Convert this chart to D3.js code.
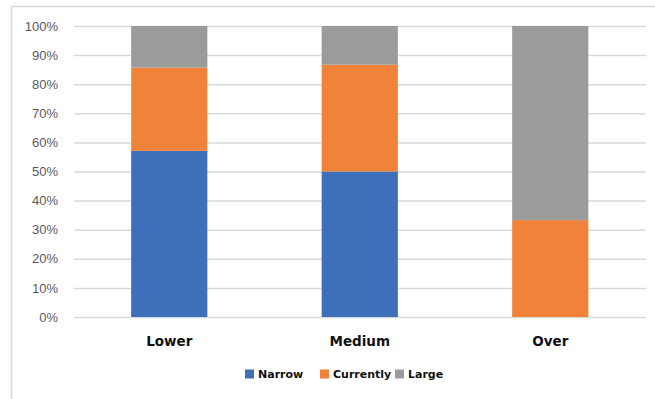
<!DOCTYPE html>
<html><head><meta charset="utf-8">
<script src="https://cdn.jsdelivr.net/npm/d3@7"></script>
<style>body{margin:0;background:#fff}</style>
</head><body>
<svg id="c" width="655" height="399"></svg>
<script>
const categories = ["Lower", "Medium", "Over"];
const seriesNames = ["Narrow", "Currently", "Large"];
const narrow = [57.1, 50.0, 0];
const currently = [28.6, 36.7, 33.3];
const large = [14.3, 13.3, 66.7];
const yTicks = [0, 10, 20, 30, 40, 50, 60, 70, 80, 90, 100];
const colors = ["#3d70b8", "#f0823a", "#9a9c9c"];

const svg = d3.select("#c");
// outer frame
svg.append("path").attr("d", "M11.5,399 V6.5 H655").attr("fill", "none").attr("stroke", "#d9d9d9").attr("stroke-width", 1.5);

const x = d3.scaleBand().domain(categories).range([74, 645.5]).paddingInner(0.6).paddingOuter(0.3);
const y = d3.scaleLinear().domain([0, 100]).range([317, 26]);

// gridlines
svg.append("g").selectAll("line").data(yTicks).join("line")
  .attr("x1", 74).attr("x2", 646)
  .attr("y1", d => y(d) + 0.5).attr("y2", d => y(d) + 0.5)
  .attr("stroke", "#d9d9d9").attr("stroke-width", 1.5);

// y axis labels
const yAxis = d3.axisLeft(y).tickValues(yTicks).tickFormat(d => d + "%").tickSize(0).tickPadding(0);
const ga = svg.append("g").attr("transform", "translate(58,0)").call(yAxis);
ga.select(".domain").remove();
ga.selectAll("text").attr("fill", "#595959").attr("font-family", "Liberation Sans, Arial, sans-serif").attr("font-size", 13);

// stacked bars
const rows = categories.map((c, i) => ({cat: c, Narrow: narrow[i], Currently: currently[i], Large: large[i]}));
const stack = d3.stack().keys(seriesNames)(rows);
svg.append("g").selectAll("g").data(stack).join("g")
  .attr("fill", (d, i) => colors[i])
  .selectAll("rect").data(d => d).join("rect")
  .attr("x", d => x(d.data.cat))
  .attr("width", x.bandwidth())
  .attr("y", d => y(d[1]))
  .attr("height", d => y(d[0]) - y(d[1]));

// x axis labels
const xAxis = d3.axisBottom(x).tickSize(0).tickPadding(0);
const gx = svg.append("g").attr("transform", "translate(0,336)").call(xAxis);
gx.select(".domain").remove();
gx.selectAll("text").attr("fill", "#111").attr("font-family", "DejaVu Sans, sans-serif")
  .attr("font-size", 13.5).attr("font-weight", "bold");

// legend
const legendX = [245, 320, 395];
const lg = svg.append("g");
seriesNames.forEach((s, i) => {
  lg.append("rect").attr("x", legendX[i]).attr("y", 369.5).attr("width", 9).attr("height", 9).attr("fill", colors[i]);
  lg.append("text").attr("x", legendX[i] + 13).attr("y", 378).text(s)
    .attr("font-family", "DejaVu Sans, sans-serif").attr("font-size", 11).attr("font-weight", "bold").attr("fill", "#111");
});
</script>
</body></html>
